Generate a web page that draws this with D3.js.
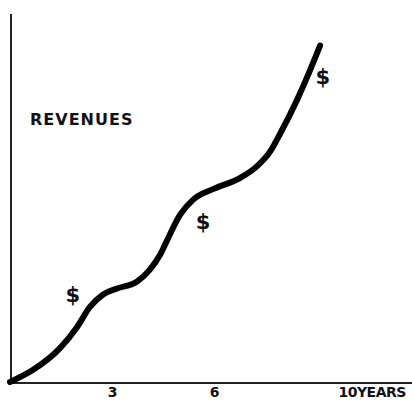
<!DOCTYPE html>
<html>
<head>
<meta charset="utf-8">
<script src="https://cdn.jsdelivr.net/npm/d3@7"></script>
<style>
  html, body { margin: 0; padding: 0; background: #fff; }
  svg { display: block; }
  text { font-family: "DejaVu Sans", sans-serif; font-weight: bold; fill: #111; }
</style>
</head>
<body>
<svg id="chart" width="412" height="402"></svg>
<script>
// Revenue growth over ten years (arbitrary units)
const years   = [0, 0.68, 1.47, 1.97, 2.35, 2.74, 3.15, 3.74, 4.12, 4.41, 4.62, 5.0, 5.38, 5.97, 6.76, 7.26, 7.65, 7.94, 8.44, 8.82, 9.12];
const revenue = [0, 3.3, 9.2, 14.9, 20.4, 23.8, 25.4, 27.3, 30.6, 34.5, 38.5, 45.4, 49.5, 52.4, 55.4, 58.6, 62.6, 67.4, 76.6, 84.6, 91.4];

// Dollar-sign markers along the curve
const dollarYears  = [1.85, 5.68, 9.2];
const dollarValues = [23.6, 43.5, 82.9];

// Axis tick labels
const tickYears  = [3, 6, 10];
const tickLabels = ["3", "6", "10YEARS"];
const yTitle = "REVENUES";

const svg = d3.select("#chart");
const x = d3.scaleLinear().domain([0, 10]).range([10, 350]);
const y = d3.scaleLinear().domain([0, 100]).range([382, 14]);

// y axis line
svg.append("line")
  .attr("x1", x(0) + 1).attr("x2", x(0) + 1)
  .attr("y1", y(100)).attr("y2", y(0))
  .attr("stroke", "#222").attr("stroke-width", 2);

// x axis with tick labels only
const xAxis = d3.axisBottom(x)
  .tickValues(tickYears)
  .tickSize(0)
  .tickPadding(4)
  .tickFormat((d, i) => tickLabels[i]);

const gx = svg.append("g")
  .attr("transform", `translate(0,${y(0) + 1})`)
  .call(xAxis);
gx.select(".domain").remove();
gx.append("line")
  .attr("x1", x(0)).attr("x2", 412)
  .attr("stroke", "#222").attr("stroke-width", 2);
gx.selectAll(".tick text")
  .attr("font-size", 14)
  .attr("font-family", "DejaVu Sans, sans-serif")
  .attr("font-weight", "bold")
  .attr("fill", "#111");
gx.selectAll(".tick").filter(d => d === 10).select("text")
  .attr("text-anchor", "start")
  .attr("dx", -12)
  .attr("letter-spacing", -0.5);

// y title
svg.append("text")
  .attr("x", 30).attr("y", 125)
  .attr("font-size", 16)
  .attr("letter-spacing", 1)
  .text(yTitle);

// revenue curve
const line = d3.line()
  .x((d, i) => x(years[i]))
  .y(d => y(d))
  .curve(d3.curveMonotoneX);

svg.append("path")
  .datum(revenue)
  .attr("d", line)
  .attr("fill", "none")
  .attr("stroke", "#000")
  .attr("stroke-width", 6)
  .attr("stroke-linecap", "round")
  .attr("stroke-linejoin", "round");

// dollar markers
svg.selectAll("text.dollar")
  .data(dollarValues)
  .join("text")
  .attr("class", "dollar")
  .attr("x", (d, i) => x(dollarYears[i]))
  .attr("y", d => y(d))
  .attr("text-anchor", "middle")
  .attr("dominant-baseline", "central")
  .attr("font-size", 21)
  .text("$");
</script>
</body>
</html>
